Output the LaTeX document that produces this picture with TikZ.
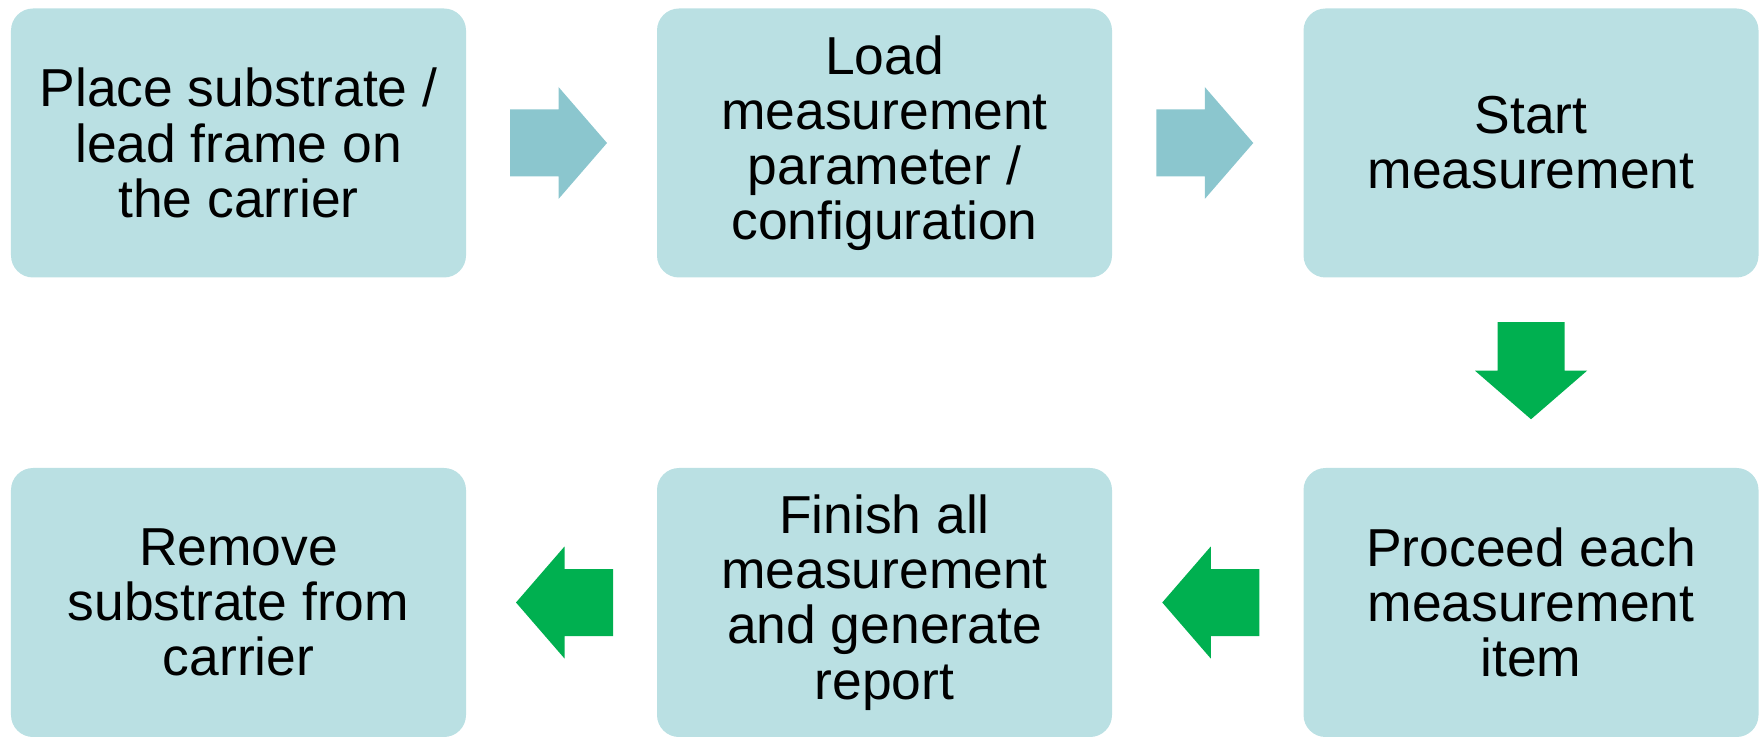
\documentclass[tikz,border=0pt]{standalone}
\usepackage{fontspec}
\setmainfont{Liberation Sans}
\usetikzlibrary{calc}

\definecolor{boxfill}{HTML}{BAE0E3}
\definecolor{arrowblue}{HTML}{8BC6CE}
\definecolor{arrowgreen}{HTML}{00B050}

\tikzset{
  blockarrow/.pic={
    \path[pic actions] (-0.485,-0.335) -- (0,-0.335) -- (0,-0.56) -- (0.485,0)
      -- (0,0.56) -- (0,0.335) -- (-0.485,0.335) -- cycle;
  }
}

\begin{document}
\begin{tikzpicture}
        \tikzstyle{stage} = [rectangle, rounded corners=0.22cm, fill=boxfill, minimum width=4.55cm, minimum height=2.69cm, align=center, font=\fontsize{15.2}{15.7}\selectfont]
        \useasboundingbox (0,0) rectangle (17.62,-7.37);
        % top row
        \node[stage] (place) at (2.385,-1.43) {Place substrate /\\lead frame on\\the carrier};
        \node[stage] (load) at (8.845,-1.43) {Load\\measurement\\parameter /\\configuration};
        \node[stage] (start) at (15.31,-1.43) {Start\\measurement};
        % bottom row
        \node[stage] (proceed) at (15.31,-6.025) {Proceed each\\measurement\\item};
        \node[stage] (finish) at (8.845,-6.025) {Finish all\\measurement\\and generate\\report};
        \node[stage] (remove) at (2.385,-6.025) {Remove\\substrate from\\carrier};
        % arrows
        \pic[fill=arrowblue] (a1) at ($(place.east)!0.5!(load.west)+(-0.03,0)$) {blockarrow};
        \pic[fill=arrowblue] (a2) at ($(load.east)!0.5!(start.west)+(-0.03,0)$) {blockarrow};
        \pic[fill=arrowgreen, rotate=-90] (a3) at ($(start.south)!0.5!(proceed.north)+(0,0.02)$) {blockarrow};
        \pic[fill=arrowgreen, rotate=180] (a4) at ($(proceed.west)!0.5!(finish.east)+(0.03,0)$) {blockarrow};
        \pic[fill=arrowgreen, rotate=180] (a5) at ($(finish.west)!0.5!(remove.east)+(0.03,0)$) {blockarrow};
\end{tikzpicture}
\end{document}
